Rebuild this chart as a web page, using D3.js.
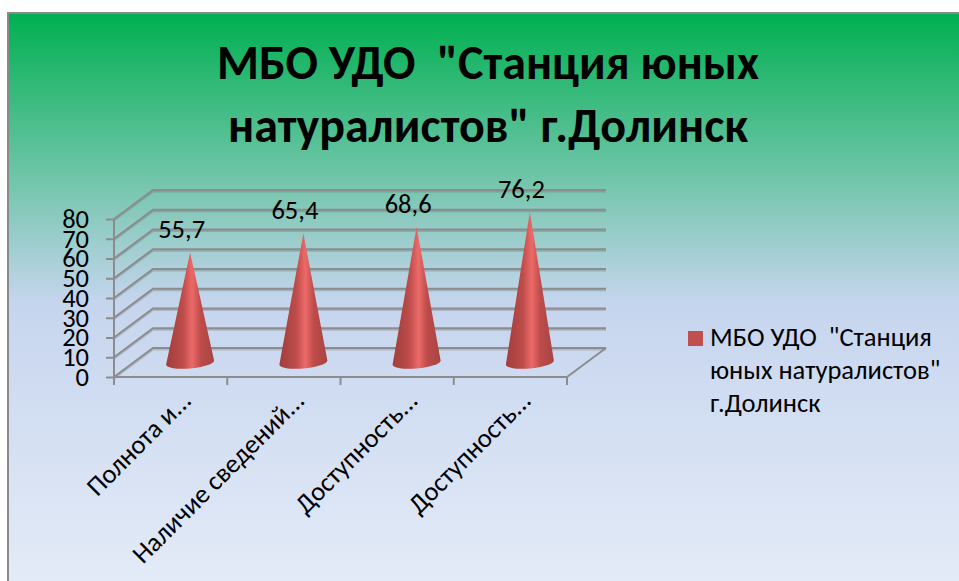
<!DOCTYPE html>
<html>
<head>
<meta charset="utf-8">
<script src="https://d3js.org/d3.v7.min.js"></script>
<style>
  html, body { margin: 0; padding: 0; background: #fff; }
  svg { display: block; }
  text { font-family: Carlito, Calibri, Lato, "Open Sans", sans-serif; fill: #000; }
</style>
</head>
<body>
<script>
// chart data
var categories = ["Полнота и...", "Наличие сведений...", "Доступность...", "Доступность..."]
var values = [55.7, 65.4, 68.6, 76.2]
var valueLabels = ["55,7", "65,4", "68,6", "76,2"]
var yTicks = [0, 10, 20, 30, 40, 50, 60, 70, 80]
var titleLines = ['МБО УДО  "Станция юных', 'натуралистов" г.Долинск']
var legendLines = ['МБО УДО  "Станция', 'юных натуралистов"', 'г.Долинск']

var width = 959, height = 581

// front plane of the 3d box, and how far back the walls go
var x = d3.scaleBand().domain(d3.range(categories.length)).range([114, 567])
var y = d3.scaleLinear().domain([0, 80]).range([377, 219])
var depthX = 39, depthY = -29

var svg = d3.select('body').append('svg')
  .attr('width', width)
  .attr('height', height)

var defs = svg.append('defs')

var bg = defs.append('linearGradient')
  .attr('id', 'bg').attr('x1', 0).attr('y1', 0).attr('x2', 0).attr('y2', 1)
bg.append('stop').attr('offset', '0%').attr('stop-color', '#00b050')
bg.append('stop').attr('offset', '50%').attr('stop-color', '#c6d5ee')
bg.append('stop').attr('offset', '100%').attr('stop-color', '#e5ecf8')

var coneFill = defs.append('linearGradient')
  .attr('id', 'cone').attr('x1', 0).attr('y1', 0).attr('x2', 1).attr('y2', 0)
coneFill.append('stop').attr('offset', '0%').attr('stop-color', '#a03e3c')
coneFill.append('stop').attr('offset', '35%').attr('stop-color', '#bd4c4a')
coneFill.append('stop').attr('offset', '54%').attr('stop-color', '#ec6a69')
coneFill.append('stop').attr('offset', '72%').attr('stop-color', '#bd4c4a')
coneFill.append('stop').attr('offset', '100%').attr('stop-color', '#a84442')

// background
svg.append('rect')
  .attr('x', 8).attr('y', 13)
  .attr('width', width).attr('height', height)
  .attr('fill', 'url(#bg)')
  .attr('stroke', '#8a8a8a')
  .attr('stroke-width', 2)

// title
svg.append('g').selectAll('text')
  .data(titleLines)
  .enter().append('text')
  .attr('x', 488)
  .attr('y', function(d, i) { return 79 + i * 63 })
  .attr('text-anchor', 'middle')
  .style('font-size', '48px')
  .style('font-weight', 'bold')
  .style('white-space', 'pre')
  .text(function(d) { return d })

// walls: each gridline runs along the side wall and then the back wall
var grid = svg.append('g')
function gridPath(d) {
  var yy = y(d)
  return 'M' + x.range()[0] + ',' + yy +
    'L' + (x.range()[0] + depthX) + ',' + (yy + depthY) +
    'L' + (x.range()[1] + depthX) + ',' + (yy + depthY)
}
grid.selectAll('path.shadow')
  .data(yTicks)
  .enter().append('path')
  .attr('class', 'shadow')
  .attr('d', gridPath)
  .attr('transform', 'translate(0,1.5)')
  .attr('fill', 'none')
  .attr('stroke', '#555')
  .attr('stroke-opacity', 0.25)
  .attr('stroke-width', 2)
grid.selectAll('path.line')
  .data(yTicks)
  .enter().append('path')
  .attr('class', 'line')
  .attr('d', gridPath)
  .attr('fill', 'none')
  .attr('stroke', '#8c8c8c')
  .attr('stroke-width', 2)

// floor edge on the right
grid.append('line')
  .attr('x1', x.range()[1]).attr('y1', y(0))
  .attr('x2', x.range()[1] + depthX).attr('y2', y(0) + depthY)
  .attr('stroke', '#8c8c8c').attr('stroke-width', 2)

// axes
var yAxis = d3.axisLeft(y).tickValues(yTicks).tickSize(8).tickPadding(17)
var yG = svg.append('g')
  .attr('transform', 'translate(' + x.range()[0] + ',0)')
  .call(yAxis)
yG.select('.domain').remove()
yG.append('line')
  .attr('y1', y(80)).attr('y2', y(0) + 8)
  .attr('stroke', '#8c8c8c').attr('stroke-width', 2)
yG.selectAll('.tick line').attr('stroke', '#8c8c8c').attr('stroke-width', 2)
yG.selectAll('.tick text')
  .style('font-size', '26.5px')
  .attr('fill', '#000')

var xG = svg.append('g').attr('transform', 'translate(0,' + y(0) + ')')
xG.append('line')
  .attr('x1', x.range()[0]).attr('x2', x.range()[1])
  .attr('stroke', '#8c8c8c').attr('stroke-width', 2)
xG.selectAll('line.tick')
  .data(d3.range(categories.length + 1))
  .enter().append('line')
  .attr('class', 'tick')
  .attr('x1', function(d) { return x.range()[0] + d * x.step() })
  .attr('x2', function(d) { return x.range()[0] + d * x.step() })
  .attr('y2', 8)
  .attr('stroke', '#8c8c8c').attr('stroke-width', 2)

xG.selectAll('text')
  .data(categories)
  .enter().append('text')
  .attr('text-anchor', 'end')
  .attr('transform', function(d, i) {
    return 'translate(' + (x(i) + x.bandwidth() / 2 + 22) + ',25) rotate(-45)'
  })
  .style('font-size', '26.5px')
  .text(function(d) { return d })

// cones stand half way into the depth of the box
var coneRx = 24, coneRy = 6, coneTilt = 2
function coneX(i) { return x(i) + x.bandwidth() / 2 + depthX / 2 }
function coneBase(v) { return y(v) + depthY / 2 }

var cones = svg.append('g').selectAll('path')
  .data(values)
  .enter().append('path')
  .attr('d', function(d, i) {
    var cx = coneX(i), by = coneBase(0)
    return 'M' + cx + ',' + coneBase(d) +
      'L' + (cx + coneRx) + ',' + (by - coneTilt) +
      'A' + coneRx + ',' + coneRy + ' -5 0 1 ' + (cx - coneRx) + ',' + (by + coneTilt) + 'Z'
  })
  .attr('fill', 'url(#cone)')

// value labels
svg.append('g').selectAll('text')
  .data(values)
  .enter().append('text')
  .attr('x', function(d, i) { return coneX(i) - 8.5 })
  .attr('y', function(d) { return coneBase(d) - 14 })
  .attr('text-anchor', 'middle')
  .style('font-size', '26.5px')
  .text(function(d, i) { return valueLabels[i] })

// legend
var legend = svg.append('g')
legend.append('rect')
  .attr('x', 688).attr('y', 331)
  .attr('width', 15).attr('height', 15)
  .attr('fill', '#c0504d')
legend.selectAll('text')
  .data(legendLines)
  .enter().append('text')
  .attr('x', 710)
  .attr('y', function(d, i) { return 345.5 + i * 33.3 })
  .style('font-size', '26.5px')
  .style('white-space', 'pre')
  .text(function(d) { return d })
</script>
</body>
</html>
